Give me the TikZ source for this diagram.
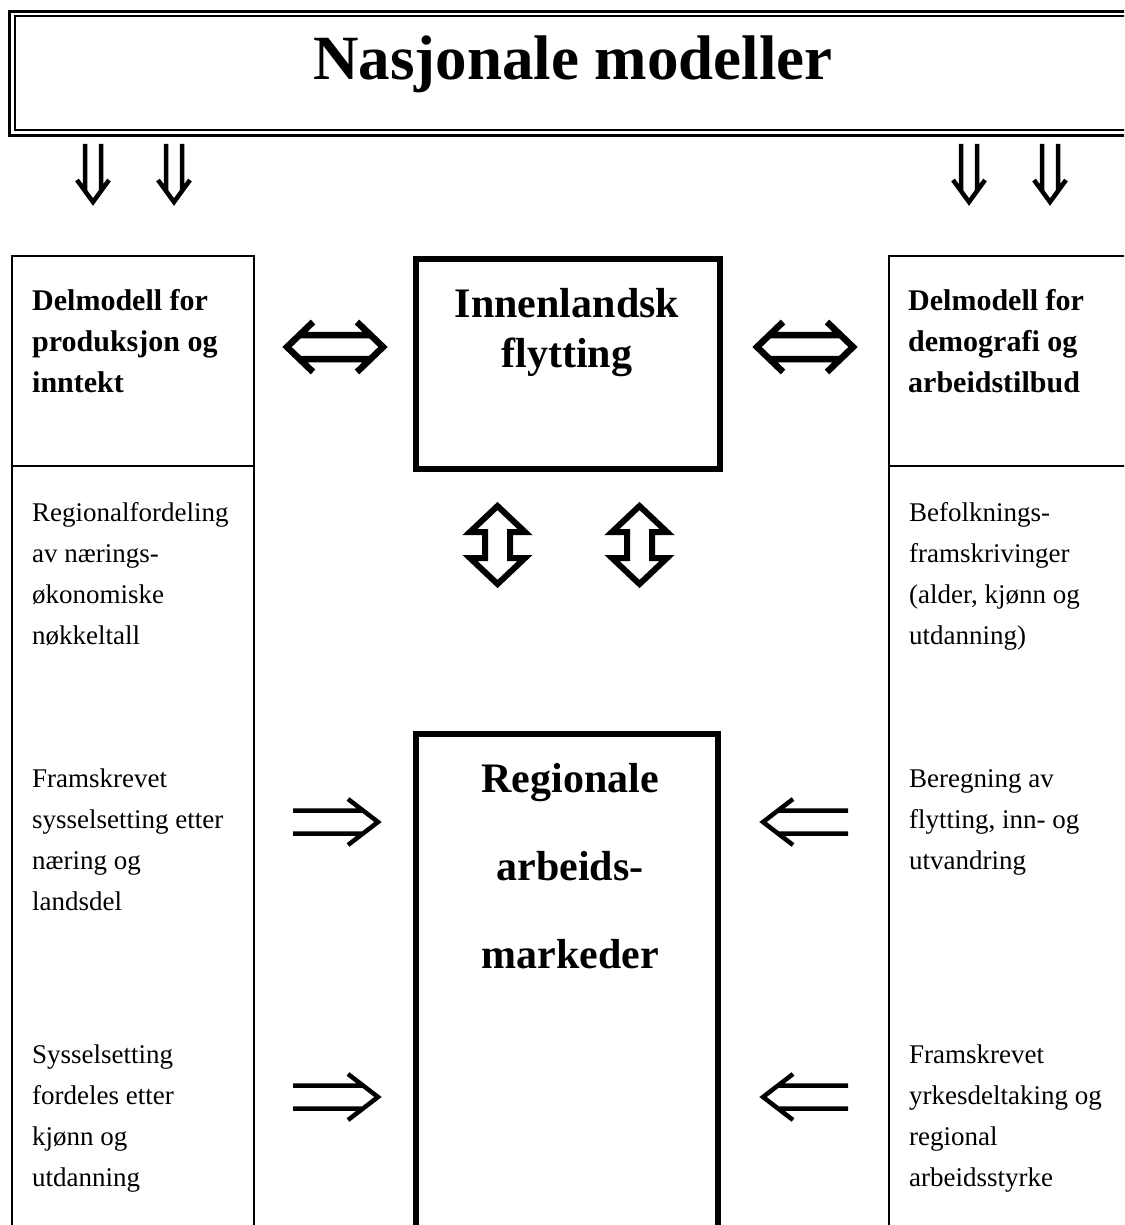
\documentclass[tikz,border=0pt]{standalone}
\usepackage{fontspec}
\setmainfont{Liberation Serif}
\tikzset{
  thinbox/.style={line width=2.5pt},
  thickbox/.style={line width=6pt},
  titletxt/.style={font=\fontsize{63}{70}\selectfont\bfseries, anchor=base, inner sep=0pt},
  headtxt/.style={font=\fontsize{30}{36}\selectfont\bfseries, anchor=base west, inner sep=0pt},
  bodytxt/.style={font=\fontsize{27}{33}\selectfont, anchor=base west, inner sep=0pt},
  centxt/.style={font=\fontsize{42}{50}\selectfont\bfseries, anchor=base, inner sep=0pt},
  glyph/.style={line width=4.5pt, line cap=butt, line join=miter},
  boldglyph/.style={line width=6.5pt, line cap=butt, line join=miter},
  dbldown/.pic={\draw[glyph] (-8,-58) -- (-8,-11) (8,-58) -- (8,-11) (-16,-22) -- (0,0) -- (16,-22);},
  dblright/.pic={\draw[glyph] (-85,-11.5) -- (-15,-11.5) (-85,11.5) -- (-15,11.5) (-30,-23) -- (0,0) -- (-30,23);},
  dblboth/.pic={\draw[boldglyph] (-22,-25) -- (-48,0) -- (-22,25) (22,-25) -- (48,0) -- (22,25) (-37,-12) -- (37,-12) (-37,12) -- (37,12);},
  hollowud/.pic={\draw[line width=6pt, line join=miter, miter limit=3] (0,-39) -- (27.5,-13) -- (12.5,-13) -- (12.5,13) -- (27.5,13) -- (0,39) -- (-27.5,13) -- (-12.5,13) -- (-12.5,-13) -- (-27.5,-13) -- cycle;}
}
\begin{document}
\begin{tikzpicture}[x=1pt, y=-1pt]
\useasboundingbox (0,0) rectangle (1124,1225);
\clip (0,0) rectangle (1124,1225);
% top box (double border)
\draw[line width=3pt] (9.5,11.5) rectangle (1140,136);
\draw[line width=2pt] (14.5,16.5) rectangle (1135,130.5);
\node[titletxt] (title) at (573,80) {Nasjonale modeller};
% down arrows
\pic at (93,202) {dbldown};
\pic at (174,202) {dbldown};
\pic at (969,202) {dbldown};
\pic at (1050,202) {dbldown};
% side boxes
\draw[thinbox] (12,1240) -- (12,256) -- (254,256) -- (254,1240);
\draw[thinbox] (12,466) -- (254,466);
\draw[thinbox] (889,1240) -- (889,256) -- (1140,256);
\draw[thinbox] (889,466) -- (1140,466);
% center boxes
\draw[thickbox] (415.5,258.5) rectangle (720,468.5);
\draw[thickbox] (415.5,1240) -- (415.5,734) -- (718,734) -- (718,1240);
% headings
\node[headtxt] (lh1) at (32,310) {Delmodell for};
\node[headtxt] (lh2) at (32,351) {produksjon og};
\node[headtxt] (lh3) at (32,392) {inntekt};
\node[headtxt] (rh1) at (908,310) {Delmodell for};
\node[headtxt] (rh2) at (908,351) {demografi og};
\node[headtxt] (rh3) at (908,392) {arbeidstilbud};
\node[centxt] (in1) at (567,317) {Innenlandsk};
\node[centxt] (in2) at (567,367) {flytting};
\node[centxt] (ra1) at (570,792) {Regionale};
\node[centxt] (ra2) at (570,880) {arbeids-};
\node[centxt] (ra3) at (570,968) {markeder};
% left body
\node[bodytxt] (la1) at (32,521) {Regionalfordeling};
\node[bodytxt] (la2) at (32,562) {av nærings-};
\node[bodytxt] (la3) at (32,603) {økonomiske};
\node[bodytxt] (la4) at (32,644) {nøkkeltall};
\node[bodytxt] (lb1) at (32,787) {Framskrevet};
\node[bodytxt] (lb2) at (32,828) {sysselsetting etter};
\node[bodytxt] (lb3) at (32,869) {næring og};
\node[bodytxt] (lb4) at (32,910) {landsdel};
\node[bodytxt] (lc1) at (32,1063) {Sysselsetting};
\node[bodytxt] (lc2) at (32,1104) {fordeles etter};
\node[bodytxt] (lc3) at (32,1145) {kjønn og};
\node[bodytxt] (lc4) at (32,1186) {utdanning};
% right body
\node[bodytxt] (ra1t) at (909,521) {Befolknings-};
\node[bodytxt] (ra2t) at (909,562) {framskrivinger};
\node[bodytxt] (ra3t) at (909,603) {(alder, kjønn og};
\node[bodytxt] (ra4t) at (909,644) {utdanning)};
\node[bodytxt] (rb1) at (909,787) {Beregning av};
\node[bodytxt] (rb2) at (909,828) {flytting, inn- og};
\node[bodytxt] (rb3) at (909,869) {utvandring};
\node[bodytxt] (rc1) at (909,1063) {Framskrevet};
\node[bodytxt] (rc2) at (909,1104) {yrkesdeltaking og};
\node[bodytxt] (rc3) at (909,1145) {regional};
\node[bodytxt] (rc4) at (909,1186) {arbeidsstyrke};
% arrows
\pic at (335,347) {dblboth};
\pic at (805,347) {dblboth};
\pic at (497.5,545) {hollowud};
\pic at (639.5,545) {hollowud};
\pic at (378,822) {dblright};
\pic at (378,1097) {dblright};
\pic[rotate=180] at (763,822) {dblright};
\pic[rotate=180] at (763,1097) {dblright};
\end{tikzpicture}
\end{document}
